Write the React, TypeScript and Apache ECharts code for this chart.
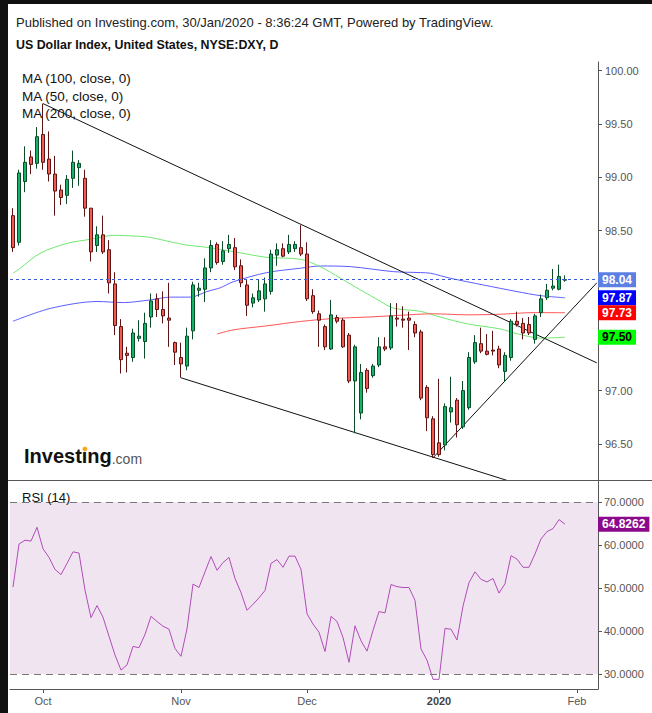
import React, { useEffect, useRef } from "react";
import * as echarts from "echarts";

const FONT = '"Liberation Sans", Arial, Helvetica, sans-serif';

// ---- categories ----
const firstSession = "2019-09-24";
const slotCount = 98; // 93 sessions + 5 empty future slots
const monthLabels: Record<string, string> = {
  "2019-10-01": "Oct",
  "2019-11-01": "Nov",
  "2019-12-02": "Dec",
  "2020-01-01": "2020",
  "2020-02-03": "Feb",
};

// ---- daily candles (DXY) ----
const opens = [
  98.64, 98.39, 98.96, 99.19, 99.13, 99.4, 99.17, 99.03, 98.88, 98.83,
  98.99, 99.09, 98.99, 98.71, 98.36, 98.46, 98.32, 98.0, 97.6, 97.35,
  97.31, 97.49, 97.46, 97.69, 97.86, 97.76, 97.68, 97.45, 97.31, 97.23,
  97.56, 97.94, 97.95, 98.15, 98.37, 98.21, 98.33, 98.34, 98.17, 97.99,
  97.82, 97.85, 97.86, 97.93, 98.27, 98.33, 98.3, 98.33, 98.34, 98.28,
  97.89, 97.72, 97.6, 97.39, 97.685, 97.66, 97.52, 97.09, 96.79, 97.19,
  97.14, 97.24, 97.41, 97.4, 97.68, 97.67, 97.68, 97.62, 97.55, 97.03,
  96.735, 96.51, 96.49, 96.8, 96.91, 96.66, 96.84, 97.27, 97.44, 97.37,
  97.38, 97.39, 97.18, 97.31, 97.65, 97.63, 97.62, 97.48, 97.73, 97.87,
  97.96, 97.95, 98.035,
];
const closes = [
  98.34, 99.04, 99.14, 99.12, 99.38, 99.14, 99.03, 98.87, 98.81, 98.98,
  99.14, 99.13, 98.71, 98.3, 98.46, 98.3, 98.01, 97.61, 97.29, 97.33,
  97.54, 97.51, 97.63, 97.84, 97.76, 97.7, 97.66, 97.36, 97.25, 97.51,
  97.99, 97.96, 98.15, 98.36, 98.2, 98.31, 98.37, 98.16, 98.01, 97.8,
  97.87, 97.935, 98.0, 98.28, 98.32, 98.26, 98.37, 98.37, 98.28, 97.86,
  97.74, 97.66, 97.41, 97.71, 97.65, 97.41, 97.09, 97.41, 97.17, 97.02,
  97.23, 97.41, 97.39, 97.7, 97.67, 97.66, 97.66, 97.54, 96.93, 96.745,
  96.4, 96.4, 96.85, 96.84, 96.68, 97.0, 97.31, 97.45, 97.37, 97.34,
  97.37, 97.24, 97.33, 97.65, 97.62, 97.54, 97.54, 97.7, 97.86, 97.94,
  97.98, 98.07, 98.04,
];
const lows = [
  98.3, 98.36, 98.86, 99.03, 99.08, 99.07, 98.96, 98.64, 98.74, 98.75,
  98.9, 98.92, 98.63, 98.21, 98.3, 98.28, 97.91, 97.52, 97.16, 97.17,
  97.27, 97.46, 97.3, 97.59, 97.69, 97.63, 97.41, 97.24, 97.12, 97.19,
  97.48, 97.88, 97.83, 98.11, 98.18, 98.18, 98.29, 98.13, 97.97, 97.7,
  97.78, 97.83, 97.74, 97.9, 98.17, 98.25, 98.28, 98.3, 98.26, 97.84,
  97.72, 97.41, 97.38, 97.38, 97.63, 97.4, 97.07, 96.6, 96.73, 96.98,
  97.12, 97.22, 97.37, 97.38, 97.6, 97.59, 97.38, 97.5, 96.91, 96.62,
  96.37, 96.38, 96.44, 96.7, 96.56, 96.64, 96.82, 97.25, 97.35, 97.33,
  97.33, 97.21, 97.08, 97.28, 97.6, 97.48, 97.52, 97.44, 97.69, 97.85,
  97.94, 97.94, 98.02,
];
const highs = [
  98.71, 99.07, 99.29, 99.25, 99.47, 99.69, 99.43, 99.2, 98.93, 99.02,
  99.25, 99.16, 99.07, 98.71, 98.54, 98.64, 98.41, 98.11, 97.67, 97.41,
  97.58, 97.66, 97.73, 97.91, 97.91, 97.93, 98.01, 97.46, 97.45, 97.59,
  98.02, 98.01, 98.24, 98.41, 98.39, 98.4, 98.46, 98.43, 98.23, 98.04,
  97.91, 98.04, 98.06, 98.32, 98.38, 98.38, 98.46, 98.4, 98.55, 98.39,
  97.95, 97.75, 97.62, 97.85, 97.71, 97.68, 97.54, 97.43, 97.25, 97.21,
  97.25, 97.5, 97.5, 97.82, 97.82, 97.79, 97.74, 97.65, 97.57, 97.05,
  96.76, 97.11, 96.88, 97.13, 96.93, 97.09, 97.36, 97.52, 97.59, 97.53,
  97.56, 97.42, 97.36, 97.67, 97.74, 97.68, 97.69, 97.72, 97.9, 98.0,
  98.14, 98.18, 98.08,
];

// ---- moving averages, read as [session number, value] ----
const ma100Points: [number, number][] = [
  [1, 97.65], [7.2, 97.77], [15, 97.835], [19.4, 97.825], [23.9, 97.85], [27.2, 97.876],
  [30.6, 97.876], [33.3, 97.928], [35.6, 97.965], [37.7, 98.02], [43.3, 98.106], [48.9, 98.147],
  [52.2, 98.168], [57.2, 98.162], [64.4, 98.115], [68.9, 98.106], [70.6, 98.1], [73.9, 98.053],
  [79.4, 97.99], [85, 97.928], [88.9, 97.89], [93, 97.87],
];
const ma50Points: [number, number][] = [
  [1, 98.1], [2.2, 98.147], [5.5, 98.287], [10, 98.38], [13.9, 98.418], [17.8, 98.455],
  [21.1, 98.449], [23.9, 98.436], [27.2, 98.395], [30, 98.364], [33.3, 98.343], [37.8, 98.302],
  [43.3, 98.249], [48.9, 98.231], [52.2, 98.162], [55.6, 98.053], [58.9, 97.944], [62.3, 97.835],
  [64.4, 97.773], [68.9, 97.743], [72.2, 97.689], [76.7, 97.626], [82.3, 97.577], [85, 97.533],
  [88.9, 97.492], [93, 97.5],
];
const ma200Points: [number, number][] = [
  [35, 97.53], [37.8, 97.57], [43.3, 97.607], [48.9, 97.648], [54.4, 97.676], [60, 97.689],
  [65.5, 97.706], [71.1, 97.72], [76.7, 97.71], [82.3, 97.716], [87.8, 97.731], [93, 97.73],
];

// ---- drawn trend lines [session number, price] ----
const upperTrend: [number, number][] = [[6, 99.69], [98.3, 97.26]];
const lowerTrend: [number, number][] = [[29, 97.12], [90, 96.04]];
const risingTrend: [number, number][] = [[71, 96.37], [98.3, 98.01]];

// ---- RSI (14) ----
const rsi = [
  50.2, 60.2, 61.1, 60.9, 64.1, 59.1, 57.1, 54.3, 53.1, 55.7,
  58.4, 58.1, 49.5, 43.1, 45.9, 43.2, 38.75, 34.4, 30.9, 32.1,
  36.4, 36.1, 39.2, 43.4, 42.2, 41.1, 40.4, 35.9, 34.1, 40.5,
  50.9, 50.1, 53.75, 57.3, 54.1, 55.9, 57.1, 52.2, 48.9, 44.8,
  46.2, 47.7, 49.4, 55.7, 56.6, 54.8, 57.4, 57.4, 54.3, 44.0,
  41.6, 39.7, 35.2, 43.4, 42.2, 38.5, 32.7, 41.2, 37.7, 35.3,
  40.1, 44.5, 44.2, 50.8, 50.3, 50.1, 50.1, 47.1, 35.8, 33.2,
  28.75, 28.75, 40.6, 40.4, 37.9, 45.8, 51.25, 53.75, 52.0, 51.4,
  52.2, 48.8, 51.0, 57.5, 56.7, 54.8, 54.8, 57.9, 61.4, 63.1,
  63.8, 65.9, 64.8262,
];

// axis labels (98.00 and 97.50 sit under the value boxes in the original)
const priceTicks = [96.5, 97, 97.5, 98, 98.5, 99, 99.5, 100];
const priceTickLabels = [96.5, 97, 98.5, 99, 99.5, 100];
const rsiTicks = [30, 40, 50, 60, 70];

function buildSessions(start: string, count: number): string[] {
  const out: string[] = [];
  let t = Date.parse(start + "T00:00:00Z");
  while (out.length < count) {
    const d = new Date(t);
    const wd = d.getUTCDay();
    if (wd !== 0 && wd !== 6) out.push(d.toISOString().slice(0, 10));
    t += 86400000;
  }
  return out;
}

function boxLabel(bg: string, fg: string, digits: number) {
  return {
    show: true,
    position: "end" as const,
    distance: 0,
    formatter: (p: any) => Number(p.value).toFixed(digits),
    backgroundColor: bg,
    color: fg,
    fontFamily: FONT,
    fontSize: 12,
    fontWeight: "bold" as const,
    padding: [2, 4, 1, 4],
    lineHeight: 12,
  };
}

const HIDDEN_LINE = { color: "rgba(0,0,0,0)", width: 1, type: "solid" as const };

function buildOption() {
  const dates = buildSessions(firstSession, slotCount);
  const candles = opens.map((o, i) => [o, closes[i], lows[i], highs[i]]);
  const lastClose = closes[closes.length - 1];
  const lastRsi = rsi[rsi.length - 1];
  const last = (a: [number, number][]) => a[a.length - 1][1];

  const maSeries = (name: string, pts: [number, number][], color: string, bg: string, fg: string) => ({
    name,
    type: "line",
    xAxisIndex: 1,
    yAxisIndex: 0,
    data: pts,
    symbol: "none",
    smooth: 0.3,
    lineStyle: { color, width: 1 },
    z: 3,
    markLine: {
      silent: true,
      symbol: "none",
      precision: 2,
      lineStyle: HIDDEN_LINE,
      label: boxLabel(bg, fg, 2),
      data: [{ yAxis: last(pts) }],
    },
  });

  const trend = (pts: [number, number][]) => ({
    type: "line",
    xAxisIndex: 1,
    yAxisIndex: 0,
    data: pts,
    symbol: "none",
    clip: true,
    lineStyle: { color: "#111", width: 1 },
    z: 4,
  });

  const text = (t: string, x: number, y: number, font: string, fill = "#111") => ({
    type: "text",
    x,
    y,
    z: 60,
    style: { text: t, font, fill, textVerticalAlign: "middle", verticalAlign: "middle" },
  });

  const labelInterval = (_i: number, v: string) => v in monthLabels;

  return {
    animation: false,
    backgroundColor: "#ffffff",
    textStyle: { fontFamily: FONT },
    grid: [
      { left: 10, right: 54, top: 62, height: 418 },
      { left: 10, right: 54, top: 480, height: 209 },
    ],
    xAxis: [
      { type: "category", gridIndex: 0, data: dates, show: false },
      { type: "value", gridIndex: 0, min: 0.5, max: 98.5, show: false },
      {
        type: "category",
        gridIndex: 1,
        data: dates,
        axisLine: { show: true, lineStyle: { color: "#555", width: 1 } },
        axisTick: { show: true, alignWithLabel: true, interval: labelInterval, length: 4, lineStyle: { color: "#555" } },
        axisLabel: {
          interval: labelInterval,
          formatter: (v: string) => {
            const t = monthLabels[v];
            if (!t) return "";
            return t === "2020" ? "{b|2020}" : t;
          },
          color: "#555",
          fontSize: 11,
          fontFamily: FONT,
          margin: 6,
          rich: { b: { fontWeight: "bold", fontSize: 11, fontFamily: FONT, color: "#444" } },
        },
        splitLine: { show: false },
      },
    ],
    yAxis: [
      {
        type: "value",
        gridIndex: 0,
        position: "right",
        min: 96.162,
        max: 100.08,
        axisLine: { show: true, lineStyle: { color: "#555", width: 1 } },
        axisTick: { show: true, customValues: priceTicks, length: 4, lineStyle: { color: "#555" } },
        axisLabel: {
          customValues: priceTickLabels,
          formatter: (v: number) => v.toFixed(2),
          color: "#555",
          fontSize: 11,
          fontFamily: FONT,
          margin: 7,
        },
        splitLine: { show: false },
      },
      {
        type: "value",
        gridIndex: 1,
        position: "right",
        min: 26.5,
        max: 75.1,
        axisLine: { show: true, lineStyle: { color: "#555", width: 1 } },
        axisTick: { show: true, customValues: rsiTicks, length: 4, lineStyle: { color: "#555" } },
        axisLabel: {
          customValues: rsiTicks,
          formatter: (v: number) => v.toFixed(4),
          color: "#555",
          fontSize: 11,
          fontFamily: FONT,
          margin: 6,
        },
        splitLine: { show: false },
      },
    ],
    series: [
      maSeries("MA (100, close, 0)", ma100Points, "#5c5cff", "#0000ff", "#ffffff"),
      maSeries("MA (50, close, 0)", ma50Points, "#6fe86f", "#00ff00", "#000000"),
      maSeries("MA (200, close, 0)", ma200Points, "#ff5555", "#ff0000", "#ffffff"),
      {
        name: "DXY",
        type: "candlestick",
        xAxisIndex: 0,
        yAxisIndex: 0,
        data: candles,
        barWidth: 4,
        z: 5,
        itemStyle: {
          color: "#17b26a",
          color0: "#f05a50",
          borderColor: "#0d4a27",
          borderColor0: "#5c1414",
          borderWidth: 1,
        },
        markLine: {
          silent: true,
          symbol: "none",
          precision: 2,
          lineStyle: { color: "#3a5bd9", type: [3, 3], width: 1 },
          label: boxLabel("#5b7fe3", "#ffffff", 2),
          data: [{ yAxis: lastClose }],
          z: 10,
        },
      },
      trend(upperTrend),
      trend(lowerTrend),
      trend(risingTrend),
      {
        name: "RSI band",
        type: "line",
        xAxisIndex: 2,
        yAxisIndex: 1,
        data: [],
        z: 1,
        markArea: {
          silent: true,
          itemStyle: { color: "#f1e4f1" },
          data: [[{ yAxis: 30 }, { yAxis: 70 }]],
        },
        markLine: {
          silent: true,
          symbol: "none",
          label: { show: false },
          lineStyle: { color: "#777", type: [7, 5], width: 1 },
          data: [{ yAxis: 70 }, { yAxis: 30 }],
        },
      },
      {
        name: "RSI (14)",
        type: "line",
        xAxisIndex: 2,
        yAxisIndex: 1,
        data: rsi,
        symbol: "none",
        z: 3,
        lineStyle: { color: "#b04cb8", width: 1 },
        markLine: {
          silent: true,
          symbol: "none",
          precision: 4,
          lineStyle: HIDDEN_LINE,
          label: boxLabel("#8b0a8b", "#ffffff", 4),
          data: [{ yAxis: lastRsi }],
        },
      },
    ],
    graphic: [
      { type: "rect", z: 100, shape: { x: 0, y: 0, width: 8, height: 713 }, style: { fill: "#111" } },
      { type: "rect", z: 100, shape: { x: 0, y: 0, width: 652, height: 4 }, style: { fill: "#111" } },
      { type: "line", z: 50, shape: { x1: 8, y1: 480.5, x2: 652, y2: 480.5 }, style: { stroke: "#555", lineWidth: 1 } },
      text("Published on Investing.com, 30/Jan/2020 - 8:36:24 GMT, Powered by TradingView.", 16, 22, `13px ${FONT}`, "#222"),
      text("US Dollar Index, United States, NYSE:DXY, D", 16, 44.5, `bold 12.4px ${FONT}`, "#111"),
      text("MA (100, close, 0)", 22, 78.5, `13.5px ${FONT}`),
      text("MA (50, close, 0)", 22, 96, `13.5px ${FONT}`),
      text("MA (200, close, 0)", 22, 113.3, `13.5px ${FONT}`),
      text("RSI (14)", 22, 497, `13px ${FONT}`),
      text("Investing", 24, 456.4, `bold 20px ${FONT}`, "#111"),
      text(".com", 111.7, 458.5, `14px ${FONT}`, "#555"),
      { type: "circle", z: 61, shape: { cx: 85, cy: 449, r: 2.4 }, style: { fill: "#f5a623" } },
    ],
  };
}

export default function App() {
  const ref = useRef<HTMLDivElement>(null);
  useEffect(() => {
    document.body.style.margin = "0";
    if (!ref.current) return;
    const chart = echarts.init(ref.current, undefined, { renderer: "svg" });
    chart.setOption(buildOption() as any);
    return () => chart.dispose();
  }, []);
  return <div ref={ref} style={{ width: 652, height: 713 }} />;
}
